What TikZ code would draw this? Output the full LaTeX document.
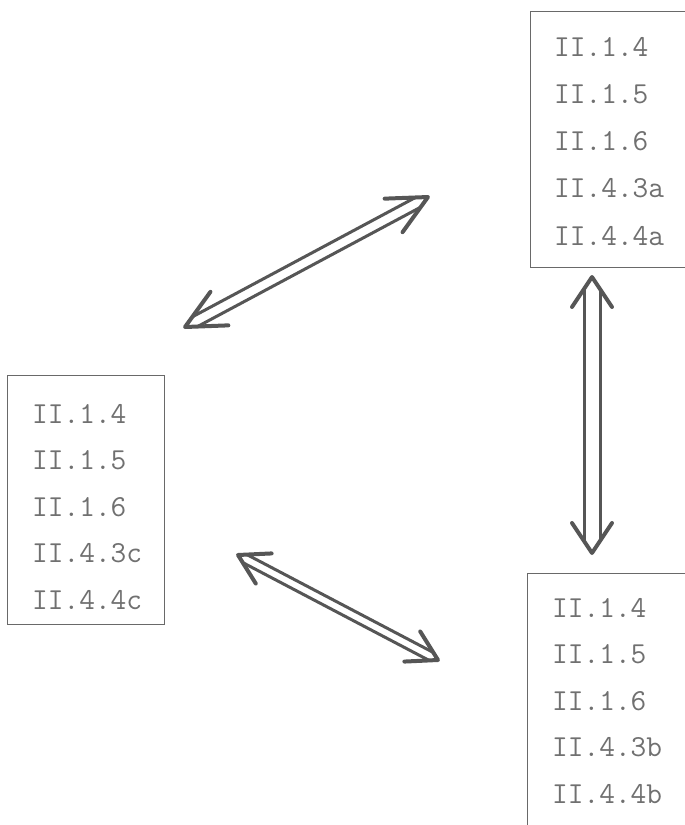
\documentclass[tikz,border=0pt]{standalone}
\usetikzlibrary{calc}

\definecolor{ink}{RGB}{112,112,112}
\definecolor{rule}{RGB}{105,105,105}
\definecolor{pencil}{RGB}{86,86,86}

\tikzset{
  frame/.style={draw=rule, line width=1.3pt, rectangle, anchor=north west, inner sep=0pt},
  entry/.style={anchor=base west, inner sep=0pt, text=ink,
                font=\ttfamily\fontsize{30.5}{36}\selectfont},
  twin/.style={draw=pencil, line width=3pt, line cap=round, line join=round},
  twinhead/.style={twin, line width=4pt},
}

% Hollow double-headed arrow between two named coordinates:
% #1 start, #2 end, #3 half gap between the shafts,
% #4 head length, #5 head half width (all in pt)
\newcommand\twinarrow[5]{%
  \path let \p1=(#1), \p2=(#2),
            \n1={atan2(\y2-\y1,\x2-\x1)},
            \n2={veclen(\x2-\x1,\y2-\y1)} in
        \pgfextra{\xdef\twinangle{\n1}\xdef\twinlen{\n2}};
  \begin{scope}[shift={(#1)}, rotate=\twinangle]
    \pgfmathsetmacro\twincut{#3*#4/#5}
    \pgfmathsetmacro\twinend{0+\twinlen}
    \draw[twin] (\twincut pt, #3pt) -- ({\twinend pt-\twincut pt}, #3pt);
    \draw[twin] (\twincut pt,-#3pt) -- ({\twinend pt-\twincut pt},-#3pt);
    \draw[twinhead] (#4pt, #5pt) -- (0pt,0pt) -- (#4pt,-#5pt);
    \draw[twinhead] ({\twinend pt-#4pt}, #5pt) -- (\twinend pt,0pt)
                -- ({\twinend pt-#4pt},-#5pt);
  \end{scope}}

\begin{document}
\begin{tikzpicture}[x=1pt, y=-1pt]
  \useasboundingbox (0,0) rectangle (685,825);
  \clip (0,0) rectangle (685,825);

  % the three boxes
  \node[frame, minimum width=200pt, minimum height=256pt] (boxA) at (530,11) {};
  \node[frame, minimum width=157pt, minimum height=249pt] (boxC) at (7,375) {};
  \node[frame, minimum width=200pt, minimum height=280pt] (boxB) at (527,573) {};

  % their entries
  \foreach \t [count=\i] in {II.1.4, II.1.5, II.1.6, II.4.3a, II.4.4a}
    \node[entry] (a\i) at (554, {56+47.3*(\i-1)}) {\t};
  \foreach \t [count=\i] in {II.1.4, II.1.5, II.1.6, II.4.3c, II.4.4c}
    \node[entry] (c\i) at (32, {423+46.6*(\i-1)}) {\t};
  \foreach \t [count=\i] in {II.1.4, II.1.5, II.1.6, II.4.3b, II.4.4b}
    \node[entry] (b\i) at (552, {617+46.6*(\i-1)}) {\t};

  % ends of the connecting arrows
  \coordinate (ca) at (185,327);
  \coordinate (ac) at (428,197);
  \coordinate (ab) at (592,277);
  \coordinate (ba) at (592,553);
  \coordinate (cb) at (238,555);
  \coordinate (bc) at (438,660);

  \twinarrow{ca}{ac}{5.5}{39}{19}
  \twinarrow{ab}{ba}{8}{30}{20}
  \twinarrow{cb}{bc}{4.5}{29}{17}
\end{tikzpicture}
\end{document}
